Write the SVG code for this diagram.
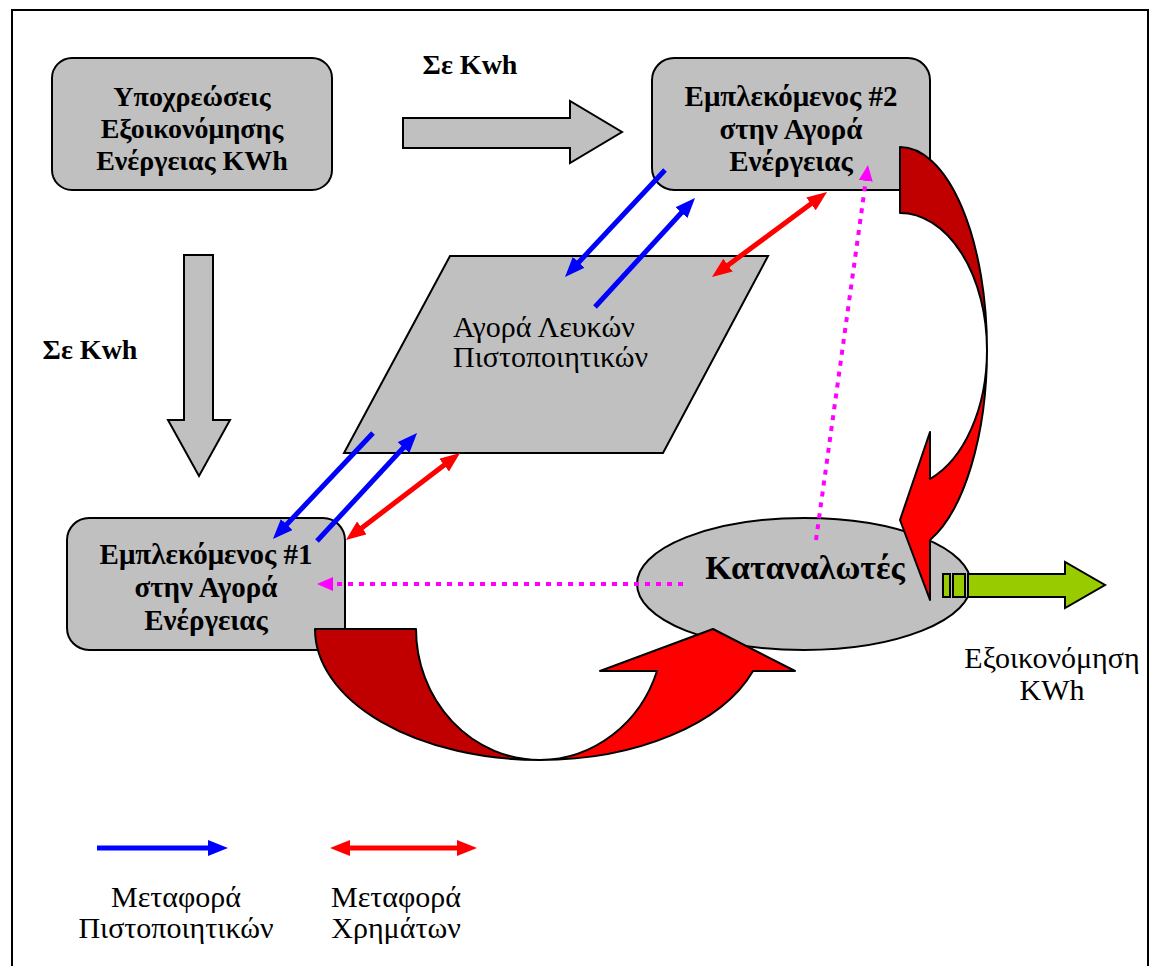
<svg xmlns="http://www.w3.org/2000/svg" width="1161" height="966" viewBox="0 0 1161 966">
<style>
.box{fill:#C0C0C0;stroke:#000;stroke-width:2}
.blk{fill:#C0C0C0;stroke:#000;stroke-width:2}
.tb{font-family:"Liberation Serif","DejaVu Serif",serif;font-weight:bold;font-size:28px;fill:#000;text-anchor:middle}
.tr{font-family:"Liberation Serif","DejaVu Serif",serif;font-size:30px;fill:#000;text-anchor:middle}
.ts{text-anchor:start}
.bl{stroke:#0000FF;stroke-width:5;fill:none}
.rd{stroke:#FF0000;stroke-width:5;fill:none}
.mg{stroke:#FF00FF;stroke-width:4;stroke-dasharray:5 6;fill:none}
.dark{fill:#C00000;stroke:#000;stroke-width:2;stroke-linejoin:round}
.bright{fill:#FF0000;stroke:#000;stroke-width:2;stroke-linejoin:round}
.grn{fill:#99CC00;stroke:#000;stroke-width:2}
</style>
<defs>
<marker id="hb" viewBox="0 0 20 16" refX="8" refY="8" markerWidth="20" markerHeight="16" markerUnits="userSpaceOnUse" orient="auto-start-reverse"><path d="M0,0 L20,8 L0,16 Z" fill="#0000FF"/></marker>
<marker id="hr" viewBox="0 0 20 16" refX="8" refY="8" markerWidth="20" markerHeight="16" markerUnits="userSpaceOnUse" orient="auto-start-reverse"><path d="M0,0 L20,8 L0,16 Z" fill="#FF0000"/></marker>
<marker id="hm" viewBox="0 0 16 14" refX="6" refY="7" markerWidth="16" markerHeight="14" markerUnits="userSpaceOnUse" orient="auto-start-reverse"><path d="M0,0 L16,7 L0,14 Z" fill="#FF00FF"/></marker>
</defs>
<rect x="0" y="0" width="1161" height="966" fill="#fff"/>
<path d="M12,970 L12,10 L1148,10 L1148,970" fill="none" stroke="#000" stroke-width="2"/>

<g id="obligations">
<rect class="box" x="52" y="58" width="280" height="132" rx="20"/>
<text class="tb" x="192" y="106">Υποχρεώσεις</text>
<text class="tb" x="192" y="138">Εξοικονόμησης</text>
<text class="tb" x="192" y="170">Ενέργειας KWh</text>
</g>

<g id="participant2">
<rect class="box" x="652" y="58" width="278" height="132" rx="22"/>
<text class="tb" x="791" y="106" style="font-size:29px">Εμπλεκόμενος #2</text>
<text class="tb" x="791" y="139" style="font-size:29px">στην Αγορά</text>
<text class="tb" x="791" y="171" style="font-size:29px">Ενέργειας</text>
</g>

<g id="market">
<polygon class="box" points="450,256 768,256 663,453 344,453"/>
<text class="tr ts" x="453" y="337">Αγορά Λευκών</text>
<text class="tr ts" x="453" y="367">Πιστοποιητικών</text>
</g>

<g id="participant1">
<rect class="box" x="67" y="518" width="278" height="132" rx="22"/>
<text class="tb" x="206" y="564" style="font-size:29px">Εμπλεκόμενος #1</text>
<text class="tb" x="206" y="597" style="font-size:29px">στην Αγορά</text>
<text class="tb" x="206" y="630" style="font-size:29px">Ενέργειας</text>
</g>

<g id="consumers">
<ellipse class="box" cx="804" cy="584" rx="167" ry="66"/>
<text class="tb" x="805" y="579" style="font-size:34px">Καταναλωτές</text>
</g>

<g id="flow-right">
<polygon class="blk" points="403,118 570,118 570,101 622,132 570,163 570,148 403,148"/>
<text class="tb" x="470" y="74">Σε Kwh</text>
</g>

<g id="flow-down">
<polygon class="blk" points="184,255 213,255 213,420 230,420 199,476 168,420 184,420"/>
<text class="tb" x="90" y="359">Σε Kwh</text>
</g>

<g id="savings">
<rect class="grn" x="943" y="574" width="7" height="23"/>
<rect class="grn" x="953" y="574" width="12" height="23"/>
<polygon class="grn" points="968,574 1065,574 1065,562 1105,585 1065,608 1065,597 968,597"/>
<text class="tr" x="1052" y="668">Εξοικονόμηση</text>
<text class="tr" x="1052" y="700">KWh</text>
</g>

<g id="connectors">
<line class="bl" x1="665" y1="170" x2="573.2" y2="268.2" marker-end="url(#hb)"/>
<line class="bl" x1="595" y1="307" x2="686.9" y2="206.8" marker-end="url(#hb)"/>
<line class="rd" x1="721.6" y1="269.9" x2="817.4" y2="199.1" marker-start="url(#hr)" marker-end="url(#hr)"/>
<line class="bl" x1="373" y1="433" x2="281.2" y2="530.3" marker-end="url(#hb)"/>
<line class="bl" x1="317" y1="541" x2="408.9" y2="441.8" marker-end="url(#hb)"/>
<line class="rd" x1="355.5" y1="532.7" x2="450.5" y2="460.3" marker-start="url(#hr)" marker-end="url(#hr)"/>
<line class="mg" x1="683" y1="584" x2="327" y2="584" marker-end="url(#hm)"/>
<line class="mg" x1="816" y1="540" x2="866.6" y2="174.9" marker-end="url(#hm)"/>
</g>

<g id="money-right">
<path class="dark" d="M900,147 A87,203 0 0 1 987,350 A87,137 0 0 0 900,213 Z"/>
<path class="bright" d="M987,350 A87,203 0 0 1 930,540 L930,600 L900,520 L930,432 L930,479 A87,137 0 0 0 987,350 Z"/>
</g>

<g id="money-bottom">
<path class="dark" d="M315,629 L416,629 A124,131 0 0 0 540,760 A225,131 0 0 1 315,629 Z"/>
<path class="bright" d="M540,760 A225,131 0 0 0 753,671 L795,671 L713,629 L600,671 L657,671 A124,131 0 0 1 540,760 Z"/>
</g>

<g id="legend">
<line class="bl" x1="97" y1="848" x2="216" y2="848" marker-end="url(#hb)"/>
<line class="rd" x1="342" y1="848" x2="465" y2="848" marker-start="url(#hr)" marker-end="url(#hr)"/>
<text class="tr" x="176" y="907">Μεταφορά</text>
<text class="tr" x="176" y="938">Πιστοποιητικών</text>
<text class="tr" x="396" y="907">Μεταφορά</text>
<text class="tr" x="396" y="938">Χρημάτων</text>
</g>
</svg>
